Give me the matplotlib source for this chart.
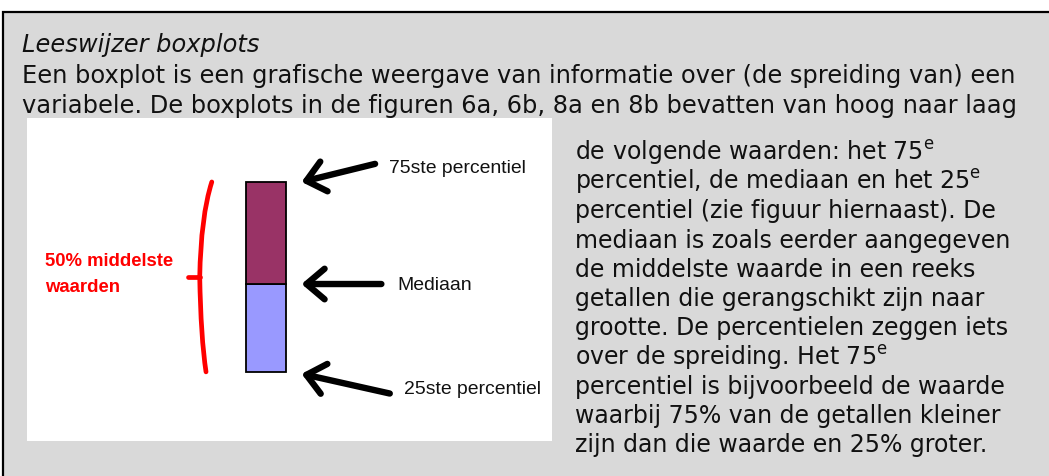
import matplotlib
matplotlib.use("Agg")
import matplotlib.pyplot as plt
from matplotlib.patches import Rectangle, PathPatch
from matplotlib.path import Path

# ---------------- data ----------------
title_text = "Leeswijzer boxplots"
intro_lines = [
    "Een boxplot is een grafische weergave van informatie over (de spreiding van) een",
    "variabele. De boxplots in de figuren 6a, 6b, 8a en 8b bevatten van hoog naar laag",
]
side_lines = [
    "de volgende waarden: het 75$^{\\mathrm{e}}$",
    "percentiel, de mediaan en het 25$^{\\mathrm{e}}$",
    "percentiel (zie figuur hiernaast). De",
    "mediaan is zoals eerder aangegeven",
    "de middelste waarde in een reeks",
    "getallen die gerangschikt zijn naar",
    "grootte. De percentielen zeggen iets",
    "over de spreiding. Het 75$^{\\mathrm{e}}$",
    "percentiel is bijvoorbeeld de waarde",
    "waarbij 75% van de getallen kleiner",
    "zijn dan die waarde en 25% groter.",
]
percentile_labels = ["75ste percentiel", "Mediaan", "25ste percentiel"]
percentile_values = [80.2, 48.6, 21.4]   # q75, median, q25 on a 0-100 scale
bracket_label = ["50% middelste", "waarden"]

W, H = 1049, 477
fig = plt.figure(figsize=(W / 100, H / 100), dpi=100)
fig.patch.set_facecolor("white")

def fx(px):
    return px / W

def fy(py):
    return 1 - py / H

# gray framed panel
bg = fig.add_axes([0, 0, 1, 1])
bg.set_xlim(0, W)
bg.set_ylim(H, 0)
bg.axis("off")
bg.add_patch(Rectangle((2.5, 12.5), W + 10, H + 10, facecolor="#d9d9d9",
                       edgecolor="black", lw=1.6))

renderer = fig.canvas.get_renderer()

def fit(text, target_px, family, base=14, **kw):
    t = fig.text(0, 0, text, fontsize=base, family=family, **kw)
    w = t.get_window_extent(renderer).width
    t.remove()
    return base * target_px / w

main_fam = ["DejaVu Sans"]
fs_main = fit(intro_lines[0], 994, main_fam)
fs_side = fit(side_lines[3], 438, main_fam)

bg.text(22, 52, title_text, fontsize=fs_main, style="italic", family=main_fam,
        va="baseline", ha="left", color="#111111")
for i, line in enumerate(intro_lines):
    bg.text(22, 83 + i * 29.5, line, fontsize=fs_main, family=main_fam,
            va="baseline", ha="left", color="#111111")
for i, line in enumerate(side_lines):
    bg.text(575, 160 + i * 29.2, line, fontsize=fs_side, family=main_fam,
            va="baseline", ha="left", color="#111111")

# ---------------- inset figure ----------------
L, T, R, B = 27, 119, 552, 442
ax = fig.add_axes([fx(L), fy(B), fx(R - L), (B - T) / H])
ax.set_facecolor("white")
for s in ax.spines.values():
    s.set_visible(False)
ax.set_xticks([])
ax.set_yticks([])
ax.set_xlim(0, 100)
ax.set_ylim(0, 100)

q75, med, q25 = percentile_values
box_x, box_w = 45.5, 7.6
ax.bar(box_x, med - q25, bottom=q25, width=box_w, color="#9999ff",
       edgecolor="black", lw=1.3)
ax.bar(box_x, q75 - med, bottom=med, width=box_w, color="#993366",
       edgecolor="black", lw=1.3)

# red bracket
bl = box_x - box_w / 2
mid = (q75 + q25) / 2
verts = [(bl - 6.5, q75), (bl - 8.6, (q75 + mid) / 2 + 4), (bl - 8.8, mid),
         (bl - 8.8, mid), (bl - 8.6, (q25 + mid) / 2 - 4), (bl - 7.6, q25)]
codes = [Path.MOVETO, Path.CURVE3, Path.CURVE3, Path.MOVETO, Path.CURVE3, Path.CURVE3]
ax.add_patch(PathPatch(Path(verts, codes), facecolor="none", edgecolor="red",
                       lw=3.4, capstyle="round"))
ax.plot([bl - 11.0, bl - 8.8], [mid, mid], color="red", lw=3.4,
        solid_capstyle="round")

red_fam = ["Liberation Sans"]
fs_red = fit(bracket_label[0], 124, red_fam, weight="bold") * 1.04
for i, t in enumerate(bracket_label):
    ax.text(3.4, 56.0 - i * 8.2, t, color="red", fontsize=fs_red,
            family=red_fam, weight="bold", va="center", ha="left")

# arrows + labels
br = box_x + box_w / 2
tail_off = [(14.0, 5.6), (15.2, 0.0), (16.8, -6.1)]
label_off = [(2.6, -1.0), (3.0, -0.3), (2.8, 1.5)]
lab_fam = ["Liberation Sans"]
fs_lab = fit(percentile_labels[0], 132, lab_fam) * 1.04
for lab, v, (dx, dy), (lx, ly) in zip(percentile_labels, percentile_values,
                                      tail_off, label_off):
    tip = (br + 3.0, v - (0.6 if lab.startswith("25") else 0))
    tail = (tip[0] + dx, tip[1] + dy)
    ax.annotate("", xy=tip, xytext=tail,
                arrowprops=dict(arrowstyle="->,head_length=0.65,head_width=0.55",
                                lw=4.6, color="black", shrinkA=0, shrinkB=0,
                                capstyle="round", joinstyle="round",
                                mutation_scale=20))
    ax.text(tail[0] + lx, tail[1] + ly, lab, fontsize=fs_lab, family=lab_fam,
            va="center", ha="left", color="#111111")

fig.savefig("out.png", dpi=100)
